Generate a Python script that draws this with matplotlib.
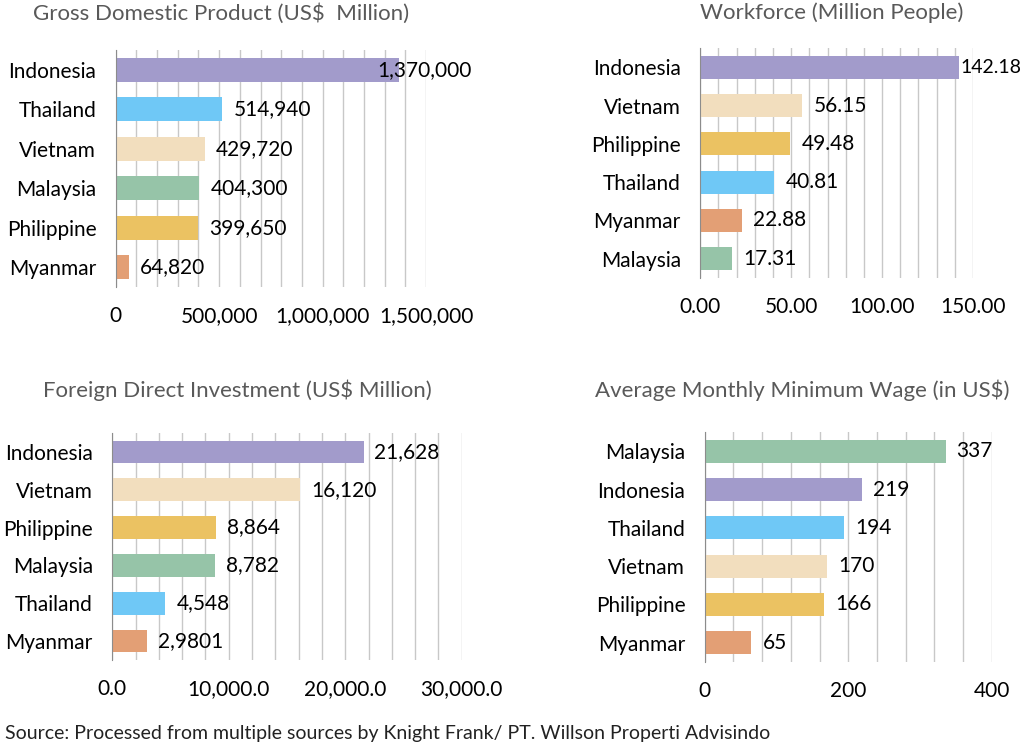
import matplotlib
matplotlib.use('Agg')
from matplotlib import pyplot as plt, ticker

plt.rcParams['font.family'] = ['Lato', 'DejaVu Sans']

COLORS = {
    'Indonesia': '#A29BCB',
    'Thailand': '#6FC8F6',
    'Vietnam': '#F2DEBE',
    'Malaysia': '#96C4A8',
    'Philippine': '#EBC262',
    'Myanmar': '#E39F75',
}

gdp_countries = ['Indonesia', 'Thailand', 'Vietnam', 'Malaysia', 'Philippine', 'Myanmar']
gdp_values = [1370000, 514940, 429720, 404300, 399650, 64820]
gdp_labels = ['1,370,000', '514,940', '429,720', '404,300', '399,650', '64,820']

wf_countries = ['Indonesia', 'Vietnam', 'Philippine', 'Thailand', 'Myanmar', 'Malaysia']
wf_values = [142.18, 56.15, 49.48, 40.81, 22.88, 17.31]
wf_labels = ['142.18', '56.15', '49.48', '40.81', '22.88', '17.31']

fdi_countries = ['Indonesia', 'Vietnam', 'Philippine', 'Malaysia', 'Thailand', 'Myanmar']
fdi_values = [21628, 16120, 8864, 8782, 4548, 2980.1]
fdi_labels = ['21,628', '16,120', '8,864', '8,782', '4,548', '2,9801']

wage_countries = ['Malaysia', 'Indonesia', 'Thailand', 'Vietnam', 'Philippine', 'Myanmar']
wage_values = [337, 219, 194, 170, 166, 65]
wage_labels = ['337', '219', '194', '170', '166', '65']

W, H = 1024, 746
FS = 15


def px_axes(fig, left, right, top, bottom):
    return fig.add_axes([left / W, 1 - bottom / H, (right - left) / W, (bottom - top) / H])


def bar_panel(ax, countries, values, labels, xmax, major, minor, fmt, title, title_xy,
              first_label_shift=7, first_label_fs=FS):
    ypos = range(len(countries))
    ax.barh(ypos, values, height=0.6, color=[COLORS[c] for c in countries], zorder=2)
    ax.set_ylim(len(countries) - 0.5, -0.5)
    ax.set_xlim(0, xmax)
    ax.set_yticks(list(ypos))
    ax.set_yticklabels(countries, fontsize=FS, color='black')
    ax.xaxis.set_major_locator(ticker.MultipleLocator(major))
    ax.xaxis.set_minor_locator(ticker.MultipleLocator(minor))
    ax.xaxis.set_major_formatter(ticker.FuncFormatter(lambda v, p: fmt.format(v)))
    ax.tick_params(axis='x', which='both', length=0, pad=14, labelsize=FS, labelcolor='black')
    ax.tick_params(axis='y', length=0, pad=14)
    ax.grid(axis='x', which='both', color='#c8c8c8', linewidth=1, zorder=0)
    ax.set_axisbelow(True)
    for side in ['top', 'right', 'bottom']:
        ax.spines[side].set_visible(False)
    ax.spines['left'].set_color('#8c8c8c')
    ax.spines['left'].set_zorder(3)
    for i, (v, lab) in enumerate(zip(values, labels)):
        dx = first_label_shift if i == 0 else 8
        fs = first_label_fs if i == 0 else FS
        ax.annotate(lab, (v, i), xytext=(dx, 0), textcoords='offset points',
                    ha='left', va='center', fontsize=fs, color='black', zorder=4)
    fig = ax.figure
    fig.text(title_xy[0] / W, 1 - title_xy[1] / H, title, fontsize=16, color='#595959',
             ha='left', va='center')


fig = plt.figure(figsize=(W / 100, H / 100), dpi=100)

ax1 = px_axes(fig, 115.7, 426, 50, 287)
bar_panel(ax1, gdp_countries, gdp_values, gdp_labels, 1500000, 500000, 100000,
          '{:,.0f}', 'Gross Domestic Product (US$  Million)', (33, 14), first_label_shift=-16)

ax2 = px_axes(fig, 700.3, 973, 48, 278)
bar_panel(ax2, wf_countries, wf_values, wf_labels, 150, 50, 10,
          '{:.2f}', 'Workforce (Million People)', (700, 13), first_label_shift=1,
          first_label_fs=14)

ax3 = px_axes(fig, 112.3, 461.7, 433, 660)
bar_panel(ax3, fdi_countries, fdi_values, fdi_labels, 30000, 10000, 2000,
          '{:,.1f}', 'Foreign Direct Investment (US$ Million)', (43, 390))

ax4 = px_axes(fig, 704.7, 991.7, 432, 662)
bar_panel(ax4, wage_countries, wage_values, wage_labels, 400, 200, 40,
          '{:.0f}', 'Average Monthly Minimum Wage (in US$)', (595, 390))

fig.text(5 / W, 1 - 733 / H,
         'Source: Processed from multiple sources by Knight Frank/ PT. Willson Properti Advisindo',
         fontsize=14, color='#222222', ha='left', va='center')

fig.savefig('out.png', dpi=100, facecolor='white')
